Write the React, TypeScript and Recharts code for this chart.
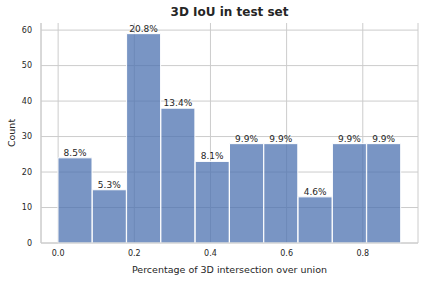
import { Bar, BarChart, CartesianGrid, LabelList, XAxis, YAxis } from "recharts"

const binStarts = [0, 0.09, 0.18, 0.27, 0.36, 0.45, 0.54, 0.63, 0.72, 0.81]
const counts = [24, 15, 59, 38, 23, 28, 28, 13, 28, 28]
const xTicks = [0, 0.2, 0.4, 0.6, 0.8]
const yTicks = [0, 10, 20, 30, 40, 50, 60]

const total = counts.reduce((a, b) => a + b, 0)
const data = binStarts.map((s, i) => ({
  bin: s.toFixed(2),
  count: counts[i],
  pct: ((counts[i] / total) * 100).toFixed(1) + "%",
}))

const font = "DejaVu Sans"
const textColor = "#262626"
const gridColor = "#cccccc"

export default function App() {
  return (
    <div style={{ position: "absolute", left: 0, top: 0, width: 425, height: 281, fontFamily: font }}>
      <div
        style={{
          position: "absolute",
          left: 41,
          width: 377,
          top: 5,
          textAlign: "center",
          fontSize: 12,
          fontWeight: "bold",
          color: textColor,
        }}
      >
        3D IoU in test set
      </div>
      <BarChart
        width={425}
        height={281}
        data={data}
        margin={{ top: 23, right: 7, left: 0, bottom: 0 }}
        barCategoryGap={0}
        barGap={0}
      >
        <CartesianGrid stroke={gridColor} xAxisId="num" horizontalValues={yTicks} />
        <XAxis dataKey="bin" xAxisId="band" hide height={0} padding={{ left: 17, right: 17 }} />
        <XAxis
          xAxisId="num"
          type="number"
          dataKey="count"
          domain={[-0.045, 0.945]}
          ticks={xTicks}
          tickFormatter={(v) => v.toFixed(1)}
          tickLine={false}
          axisLine={{ stroke: gridColor }}
          tick={{ fill: textColor, fontSize: 8, fontFamily: font }}
          tickMargin={1}
          height={38}
          allowDataOverflow
          label={{
            value: "Percentage of 3D intersection over union",
            position: "insideBottom",
            offset: 8,
            fill: textColor,
            fontSize: 9.5,
            fontFamily: font,
          }}
        />
        <XAxis xAxisId="top" orientation="top" height={0} tick={false} tickLine={false} axisLine={{ stroke: gridColor }} />
        <YAxis
          domain={[0, 62]}
          ticks={yTicks}
          width={41}
          tickLine={false}
          axisLine={{ stroke: gridColor }}
          tick={{ fill: textColor, fontSize: 8, fontFamily: font }}
          tickMargin={3}
          label={{
            value: "Count",
            angle: -90,
            position: "insideLeft",
            offset: 12,
            fill: textColor,
            fontSize: 9.5,
            fontFamily: font,
            style: { textAnchor: "middle" },
          }}
        />
        <YAxis yAxisId="right" orientation="right" width={0} tick={false} tickLine={false} axisLine={{ stroke: gridColor }} />
        <Bar
          dataKey="count"
          xAxisId="band"
          fill="#4c72b0"
          fillOpacity={0.75}
          stroke="#ffffff"
          strokeWidth={1}
          isAnimationActive={false}
        >
          <LabelList dataKey="pct" position="top" offset={2} fill={textColor} fontSize={9} fontFamily={font} />
        </Bar>
      </BarChart>
    </div>
  )
}
